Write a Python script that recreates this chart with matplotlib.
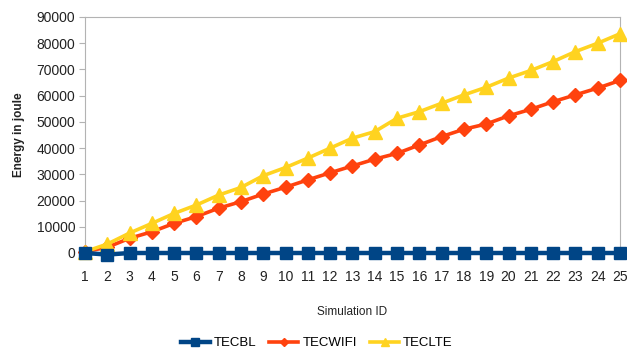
import matplotlib.pyplot as plt

plt.rcParams['font.family'] = ['Liberation Sans', 'DejaVu Sans']

# Energy per simulation run (joule)
sim_ids = list(range(1, 26))
tecbl = [0, -600, 0, 0, 0, 0, 0, 0, 0, 0, 0, 0, 0, 0, 0, 0, 0, 0, 0, 0, 0, 0, 0, 0, 0]
tecwifi = [500, 2200, 5600, 8100, 11300, 13900, 17100, 19600, 22500, 25100,
           27900, 30600, 33200, 35800, 38000, 41200, 44400, 47200, 49200, 52300,
           54800, 57700, 60300, 62900, 65800]
teclte = [500, 3400, 7600, 11300, 15100, 18300, 22100, 25000, 29500, 32600,
          36200, 40000, 43800, 46300, 51400, 53900, 57100, 60300, 63200, 66700,
          69600, 73000, 76800, 80000, 83600]

fig = plt.figure(figsize=(6.27, 3.51), dpi=100)
ax = fig.add_axes([85 / 627, 98 / 351, 535 / 627, 236 / 351])

ax.plot(sim_ids, tecbl, color='#004586', lw=3.2, marker='s', ms=9,
        label='TECBL', clip_on=False, zorder=5)
ax.plot(sim_ids, tecwifi, color='#ff420e', lw=2.6, marker='D', ms=7.5,
        label='TECWIFI', clip_on=False, zorder=3)
ax.plot(sim_ids, teclte, color='#ffd320', lw=2.6, marker='^', ms=10,
        label='TECLTE', clip_on=False, zorder=4)

ax.set_xlim(1, 25)
ax.set_ylim(0, 90000)
ax.set_xticks(sim_ids)
ax.set_yticks(range(0, 90001, 10000))
ax.tick_params(axis='both', labelsize=10, colors='#222222')
ax.tick_params(axis='x', length=0, pad=12)
ax.tick_params(axis='y', length=4, color='#b3b3b3', pad=3)

for side in ['top', 'left', 'right']:
    ax.spines[side].set_color('#b3b3b3')
ax.spines['bottom'].set_visible(False)

ax.set_xlabel('Simulation ID', fontsize=8.5, color='#222222', labelpad=16)
ax.set_ylabel('Energy in joule', fontsize=8.5, fontweight='bold', color='#222222', labelpad=8)

fig.legend(loc='center', bbox_to_anchor=(0.505, 8 / 351), ncol=3,
           frameon=False, fontsize=9.5, handlelength=2.2, columnspacing=1.0,
           handletextpad=0.3, markerscale=0.6)

fig.savefig('out.png', dpi=100)
